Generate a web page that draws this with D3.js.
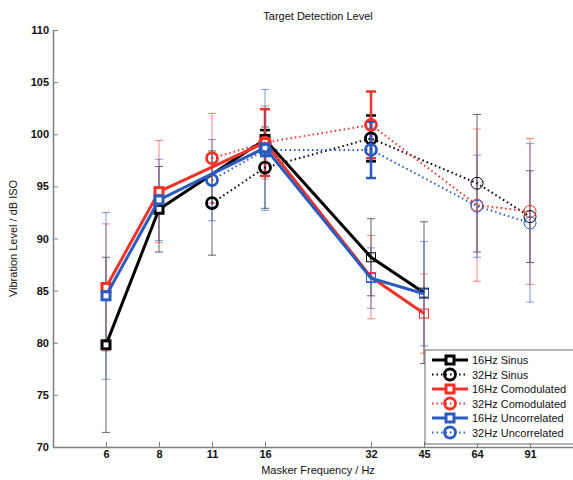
<!DOCTYPE html>
<html>
<head>
<meta charset="utf-8">
<script src="https://cdn.jsdelivr.net/npm/d3@7"></script>
<style>
  body { margin: 0; background: #fff; }
  text { font-family: "Liberation Sans", Arial, sans-serif; fill: #111; }
</style>
</head>
<body>
<div id="chart"></div>
<script>
// masker frequencies, their slot on the axis (gap between 16 and 32)
const freqLabels = ['6', '8', '11', '16', '32', '45', '64', '91'];
const freqSlots = [0, 1, 2, 3, 5, 6, 7, 8];

const freqs16 = [6, 8, 16, 32, 45];
const freqs32 = [11, 16, 32, 64, 91];

const sinus16 = [79.8, 92.8, 99.5, 88.2, 84.8];
const sinus16Err = [8.4, 4.1, 0.9, 3.7, 6.8];
const sinus32 = [93.4, 96.8, 99.6, 95.3, 92.1];
const sinus32Err = [5.0, 3.9, 2.2, 6.6, 4.4];
const comod16 = [85.3, 94.5, 99.2, 86.3, 82.8];
const comod16Err = [6.1, 4.9, 3.2, 4.0, 3.8];
const comod32 = [97.7, 99.2, 100.9, 93.2, 92.6];
const comod32Err = [4.3, 3.5, 3.2, 7.3, 7.0];
const uncorr16 = [84.5, 93.7, 98.7, 86.2, 84.7];
const uncorr16Err = [8.0, 3.9, 0.8, 2.9, 5.0];
const uncorr32 = [95.6, 98.5, 98.5, 93.1, 91.5];
const uncorr32Err = [3.9, 5.8, 2.7, 4.9, 7.6];

const yTicks = [70, 75, 80, 85, 90, 95, 100, 105, 110];

const width = 573;
const height = 480;

const black = '#000000';
const red = '#f0332a';
const blue = '#2a5bbf';

// series table built from the arrays above
const series = [
  { name: '16Hz Sinus', target: 16, freqs: freqs16, vals: sinus16, errs: sinus16Err, color: black, dotted: false },
  { name: '32Hz Sinus', target: 32, freqs: freqs32, vals: sinus32, errs: sinus32Err, color: black, dotted: true },
  { name: '16Hz Comodulated', target: 16, freqs: freqs16, vals: comod16, errs: comod16Err, color: red, dotted: false },
  { name: '32Hz Comodulated', target: 32, freqs: freqs32, vals: comod32, errs: comod32Err, color: red, dotted: true },
  { name: '16Hz Uncorrelated', target: 16, freqs: freqs16, vals: uncorr16, errs: uncorr16Err, color: blue, dotted: false },
  { name: '32Hz Uncorrelated', target: 32, freqs: freqs32, vals: uncorr32, errs: uncorr32Err, color: blue, dotted: true }
];

const svg = d3.select('#chart')
  .append('svg')
  .attr('width', width)
  .attr('height', height);

const x = d3.scaleLinear().domain([-1, 9]).range([53, 583]);
const y = d3.scaleLinear().domain([70, 110]).range([447, 30]);

// frequency -> axis position
function fx(f) {
  return x(freqSlots[freqLabels.indexOf(String(f))]);
}

// axes, ticks pointing inward like matlab
const xAxis = svg.append('g')
  .attr('transform', `translate(0, ${y(70)})`)
  .call(d3.axisBottom(x)
    .tickValues(freqSlots)
    .tickFormat((d, i) => freqLabels[i])
    .tickSizeInner(-5)
    .tickSizeOuter(0)
    .tickPadding(3));

const yAxis = svg.append('g')
  .attr('transform', `translate(${x(-1)}, 0)`)
  .call(d3.axisLeft(y)
    .tickValues(yTicks)
    .tickSizeInner(-5)
    .tickSizeOuter(0)
    .tickPadding(4));

[xAxis, yAxis].forEach(ax => {
  ax.select('.domain').attr('stroke', '#808080').attr('stroke-width', 1.5);
  ax.selectAll('.tick line').attr('stroke', '#808080').attr('stroke-width', 1);
  ax.selectAll('.tick text')
    .attr('font-size', 11)
    .attr('font-weight', 'bold')
    .attr('fill', '#222');
});

svg.append('text')
  .attr('x', 318)
  .attr('y', 20)
  .attr('text-anchor', 'middle')
  .attr('font-size', 11)
  .text('Target Detection Level');

svg.append('text')
  .attr('x', 318)
  .attr('y', 474)
  .attr('text-anchor', 'middle')
  .attr('font-size', 11)
  .text('Masker Frequency / Hz');

svg.append('text')
  .attr('transform', `translate(17, ${y(90)}) rotate(-90)`)
  .attr('text-anchor', 'middle')
  .attr('font-size', 11)
  .text('Vibration Level / dB ISO');

const plot = svg.append('g');

// error bars first, thick one where masker frequency equals target
series.forEach(s => {
  s.freqs.forEach((f, i) => {
    const bold = f === s.target;
    const cx = fx(f);
    const top = y(s.vals[i] + s.errs[i]);
    const bottom = y(s.vals[i] - s.errs[i]);
    const half = bold ? 5 : 4;
    const g = plot.append('g')
      .attr('stroke', s.color)
      .attr('stroke-width', bold ? 2.5 : 1)
      .attr('stroke-opacity', bold ? 1 : 0.6);
    g.append('line').attr('x1', cx).attr('x2', cx).attr('y1', top).attr('y2', bottom);
    g.append('line').attr('x1', cx - half).attr('x2', cx + half).attr('y1', top).attr('y2', top);
    g.append('line').attr('x1', cx - half).attr('x2', cx + half).attr('y1', bottom).attr('y2', bottom);
  });
});

const line = d3.line()
  .x(d => fx(d.f))
  .y(d => y(d.v));

function drawMarker(g, s, cx, cy, bold) {
  if (s.dotted) {
    g.append('circle')
      .attr('cx', cx).attr('cy', cy)
      .attr('r', bold ? 5.5 : 6)
      .attr('fill', 'none')
      .attr('stroke', s.color)
      .attr('stroke-width', bold ? 2.8 : 1);
  } else {
    const side = bold ? 8 : 9;
    g.append('rect')
      .attr('x', cx - side / 2).attr('y', cy - side / 2)
      .attr('width', side).attr('height', side)
      .attr('fill', bold ? '#fff' : 'none')
      .attr('stroke', s.color)
      .attr('stroke-width', bold ? 3 : 1);
  }
}

series.forEach(s => {
  const pts = s.freqs.map((f, i) => ({ f: f, v: s.vals[i] }));
  plot.append('path')
    .datum(pts)
    .attr('d', line)
    .attr('fill', 'none')
    .attr('stroke', s.color)
    .attr('stroke-width', s.dotted ? 2 : 3)
    .attr('stroke-dasharray', s.dotted ? '1.5,3' : null);

  pts.forEach(p => {
    drawMarker(plot, s, fx(p.f), y(p.v), p.f <= s.target);
  });
});

// legend
const legend = svg.append('g').attr('transform', 'translate(425, 350)');
legend.append('rect')
  .attr('width', 160)
  .attr('height', 94)
  .attr('fill', '#fff')
  .attr('stroke', '#666')
  .attr('stroke-width', 1);

series.forEach((s, i) => {
  const ly = 10 + i * 14.5;
  const row = legend.append('g');
  row.append('line')
    .attr('x1', 7).attr('x2', 43)
    .attr('y1', ly).attr('y2', ly)
    .attr('stroke', s.color)
    .attr('stroke-width', s.dotted ? 2 : 3)
    .attr('stroke-dasharray', s.dotted ? '1.5,3' : null);
  drawMarker(row, s, 25, ly, true);
  row.append('text')
    .attr('x', 47)
    .attr('y', ly + 4)
    .attr('font-size', 11)
    .text(s.name);
});
</script>
</body>
</html>
